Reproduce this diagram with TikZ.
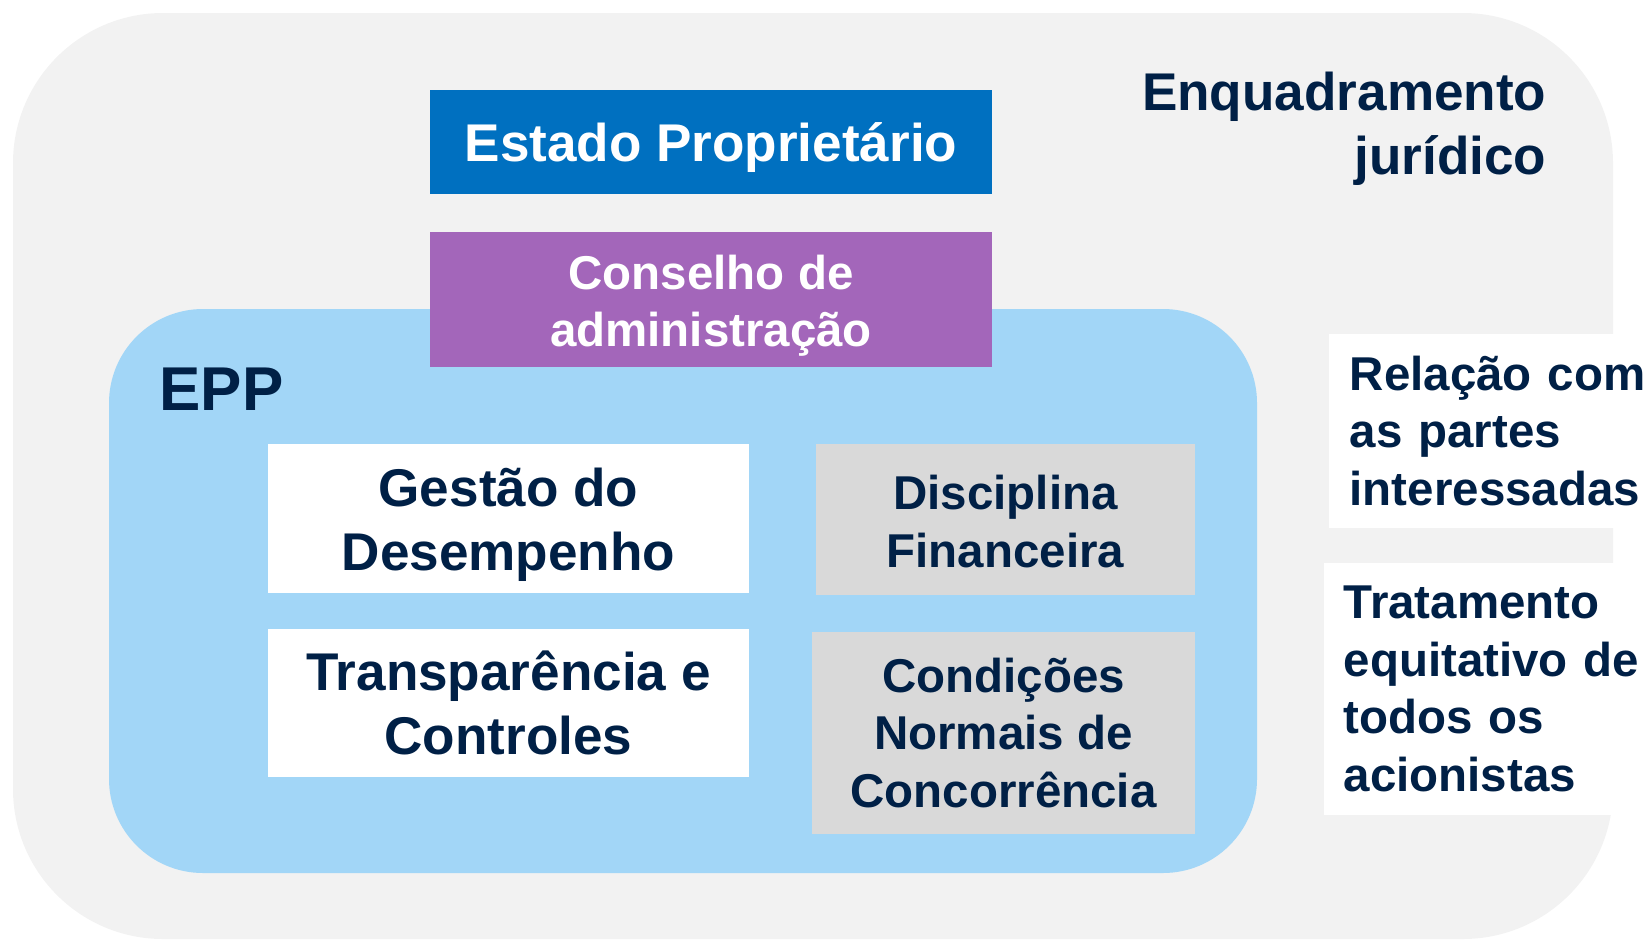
\documentclass[tikz,border=0pt]{standalone}
\usepackage{fontspec}
\setmainfont{Liberation Sans}
\usepackage{tikz}

\definecolor{fundo}{HTML}{F2F2F2}
\definecolor{azulepp}{HTML}{A2D6F7}
\definecolor{cinza}{HTML}{D9D9D9}
\definecolor{azulestado}{HTML}{0070C0}
\definecolor{roxo}{HTML}{A366BA}
\definecolor{marinho}{RGB}{0,32,70}

\newcommand{\grande}{\fontsize{15.1pt}{18.2pt}\selectfont\bfseries}
\newcommand{\medio}{\fontsize{13.5pt}{16.4pt}\selectfont\bfseries}

\begin{document}
\begin{tikzpicture}[x=0.01cm, y=-0.01cm,
  caixa/.style={rectangle, inner sep=0pt},
  rotulo/.style={inner sep=0pt, align=center, text=marinho},
  lateral/.style={rectangle, fill=white, anchor=north west, inner xsep=0.21cm, inner ysep=0pt, text width=3.4cm, align=left, text=marinho, font=\medio}]
\useasboundingbox (0,0) rectangle (1646,939);
\fill[fundo, rounded corners=1.5cm] (13,13) rectangle (1613,939);
\fill[azulepp, rounded corners=0.94cm] (109,309) rectangle (1257,873);

\node[anchor=east, align=right, inner sep=0pt, text=marinho, font=\grande] (enquadramento) at (1547,128.5) {Enquadramento\\jurídico};

% caixas de cima
\node[caixa, fill=azulestado, minimum width=5.62cm, minimum height=1.04cm] (estado) at (711,142) {};
\node[rotulo, text=white, font=\grande] (estado-t) at ([yshift=-0.053cm]estado.center) {Estado Proprietário};
\node[caixa, fill=roxo, minimum width=5.62cm, minimum height=1.35cm] (conselho) at (711,299.5) {};
\node[rotulo, text=white, font=\medio] (conselho-t) at ([yshift=-0.063cm]conselho.center) {Conselho de\\administração};

\node[anchor=base west, inner sep=0pt, text=marinho, font=\fontsize{17.6pt}{21pt}\selectfont\bfseries] (epp) at (159,410) {EPP};

% caixas da EPP
\node[caixa, fill=white, minimum width=4.81cm, minimum height=1.49cm] (gestao) at (508.5,518.5) {};
\node[rotulo, font=\grande] (gestao-t) at ([yshift=-0.063cm]gestao.center) {Gestão do\\Desempenho};
\node[caixa, fill=cinza, minimum width=3.79cm, minimum height=1.51cm] (disciplina) at (1005.5,519.5) {};
\node[rotulo, font=\medio] (disciplina-t) at ([yshift=-0.02cm]disciplina.center) {Disciplina\\Financeira};
\node[caixa, fill=white, minimum width=4.81cm, minimum height=1.48cm] (transparencia) at (508.5,703) {};
\node[rotulo, font=\grande] (transparencia-t) at (transparencia.center) {Transparência e\\Controles};
\node[caixa, fill=cinza, minimum width=3.83cm, minimum height=2.02cm] (condicoes) at (1003.5,733) {};
\node[rotulo, font=\medio] (condicoes-t) at (condicoes.center) {Condições\\Normais de\\Concorrência};

% lado direito
\node[lateral, minimum height=1.94cm] (relacao) at (1328,333) {Relação com\\as partes\\interessadas};
\node[lateral, inner xsep=0.20cm, minimum height=2.52cm] (tratamento) at (1323,562) {Tratamento\\equitativo de\\todos os\\acionistas};
\end{tikzpicture}
\end{document}
